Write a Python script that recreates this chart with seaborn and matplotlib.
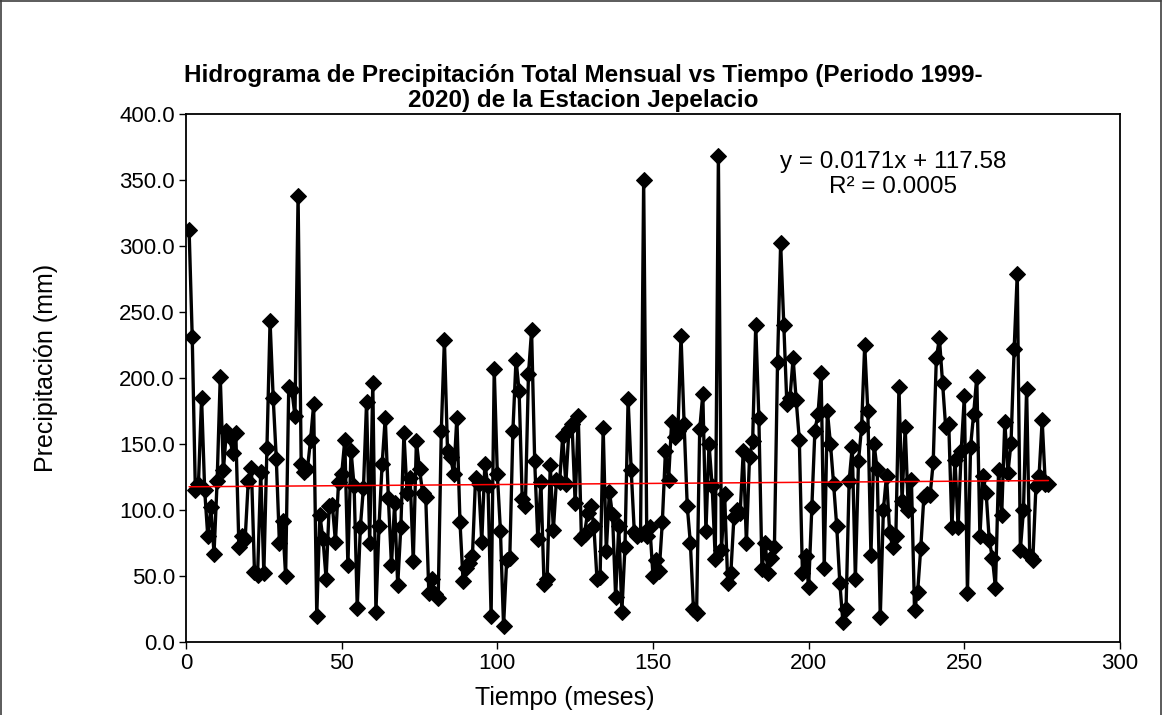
import matplotlib
matplotlib.use("Agg")
import matplotlib.pyplot as plt
import seaborn as sns
import numpy as np
import pandas as pd
from matplotlib.ticker import FormatStrFormatter, MultipleLocator

precip = [
    312, 231, 115, 120, 185, 115, 80, 102, 67, 122,
    201, 130, 160, 155, 143, 158, 72, 80, 78, 122,
    132, 53, 51, 129, 52, 147, 243, 185, 139, 75,
    92, 50, 193, 191, 171, 338, 135, 129, 131, 153,
    180, 20, 96, 78, 48, 103, 104, 76, 121, 127,
    153, 58, 145, 118, 26, 87, 117, 182, 75, 196,
    23, 88, 135, 170, 109, 58, 105, 43, 87, 158,
    113, 124, 61, 152, 131, 113, 110, 37, 48, 36,
    33, 160, 229, 145, 140, 127, 170, 91, 46, 56,
    60, 65, 124, 120, 76, 135, 118, 20, 207, 127,
    84, 12, 62, 64, 160, 214, 190, 108, 103, 203,
    236, 137, 78, 121, 44, 48, 134, 85, 123, 121,
    156, 120, 161, 165, 105, 171, 79, 82, 98, 103,
    88, 48, 49, 162, 69, 114, 96, 34, 88, 23,
    72, 184, 130, 83, 80, 82, 350, 80, 87, 50,
    62, 54, 91, 145, 123, 167, 155, 160, 232, 165,
    103, 75, 25, 22, 161, 188, 84, 150, 118, 63,
    368, 70, 112, 45, 52, 95, 100, 98, 145, 75,
    140, 152, 240, 170, 55, 75, 52, 64, 72, 212,
    302, 240, 180, 185, 215, 183, 153, 52, 65, 42,
    102, 160, 173, 204, 56, 175, 150, 120, 88, 45,
    15, 25, 122, 148, 48, 137, 163, 225, 175, 66,
    150, 131, 19, 100, 126, 83, 72, 80, 193, 107,
    163, 100, 123, 24, 38, 71, 110, 112, 111, 136,
    215, 230, 196, 163, 165, 87, 138, 87, 145, 186,
    37, 148, 173, 201, 80, 126, 113, 77, 64, 41,
    130, 96, 167, 128, 151, 222, 279, 70, 100, 192,
    65, 62, 118, 126, 168, 120, 120,
]
months = list(range(1, len(precip) + 1))
slope = 0.0171
intercept = 117.58
trend_x = [months[0], months[-1]]
trend_y = [slope * v + intercept for v in trend_x]

title = "Hidrograma de Precipitación Total Mensual vs Tiempo (Periodo 1999-\n2020) de la Estacion Jepelacio"
xlabel = "Tiempo (meses)"
ylabel = "Precipitación (mm)"
eq_text = "y = 0.0171x + 117.58\nR² = 0.0005"

sns.set_style("white")
plt.rcParams['font.family'] = ['Liberation Sans', 'DejaVu Sans']
plt.rcParams['text.color'] = 'black'
plt.rcParams['axes.labelcolor'] = 'black'

W, H = 1166, 715
fig = plt.figure(figsize=(W / 100, H / 100), dpi=100)
ax = fig.add_axes([186 / W, 1 - 642 / H, 934 / W, 528 / H])

df = pd.DataFrame({"mes": months, "pp": precip})
sns.lineplot(data=df, x="mes", y="pp", ax=ax, color="black", linewidth=2.4,
             marker="D", markersize=8.5, markeredgecolor="black", markerfacecolor="black")
sns.lineplot(x=trend_x, y=trend_y, ax=ax, color="red", linewidth=1.1)

ax.set_xlim(0, 300)
ax.set_ylim(0, 400)
ax.xaxis.set_major_locator(MultipleLocator(50))
ax.yaxis.set_major_locator(MultipleLocator(50))
ax.yaxis.set_major_formatter(FormatStrFormatter("%.1f"))
ax.tick_params(axis="both", direction="out", length=5, width=1, labelsize=16,
               bottom=True, left=True, colors="black", labelcolor="black", pad=3)
for s in ax.spines.values():
    s.set_color("black")
    s.set_linewidth(1.3)

ax.set_xlabel(xlabel, fontsize=18, color="black")
ax.xaxis.set_label_coords((565 - 186) / 934, -(686 - 642) / 528)
ax.set_ylabel(ylabel, fontsize=18, color="black")
ax.yaxis.set_label_coords((58 - 186) / 934, 0.52)

fig.text(0.5, 1 - 88 / H, title, ha="center", va="center", fontsize=17.5,
         fontweight="bold", linespacing=1.1, color="black")

ax.text(227, 354, eq_text, ha="center", va="center", fontsize=17.5, linespacing=1.2,
        color="black")

border = dict(transform=fig.transFigure, color="#404040", linewidth=1.2)
fig.add_artist(plt.Line2D([0.5 / W, 0.5 / W], [0, 1], **border))
fig.add_artist(plt.Line2D([0, 1161 / W], [1 - 0.5 / H, 1 - 0.5 / H], **border))
fig.add_artist(plt.Line2D([1161 / W, 1161 / W], [0, 1], **border))

fig.savefig("out.png", dpi=100)
